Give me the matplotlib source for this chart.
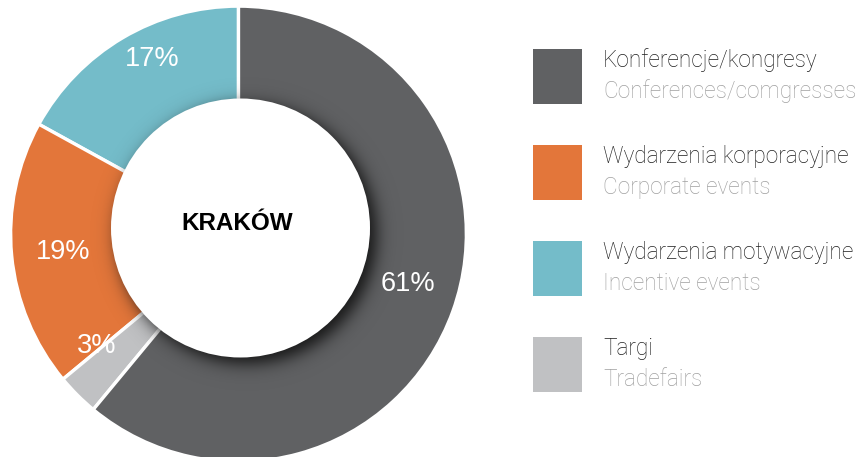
import numpy as np
import matplotlib.pyplot as plt
from matplotlib.patches import Circle, Rectangle

# ---- data (legend order) ----
labels_pl = ['Konferencje/kongresy', 'Wydarzenia korporacyjne', 'Wydarzenia motywacyjne', 'Targi']
labels_en = ['Conferences/comgresses', 'Corporate events', 'Incentive events', 'Tradefairs']
shares = [61, 19, 17, 3]
colors = ['#606163', '#E3763A', '#74BCC9', '#C0C1C3']
city = 'KRAKÓW'

# order of wedges, counter-clockwise from 12 o'clock
pie_order = [2, 1, 3, 0]
# label fine tuning (radius, angle shift in degrees) per wedge in pie_order
lab_r = [0.86, 0.78, 0.80, 0.78]
lab_shift = [-4.3, 0.4, -6.7, 3.3]

plt.rcParams['font.family'] = ['Liberation Sans', 'DejaVu Sans']

W, H = 866, 457
fig = plt.figure(figsize=(W / 100, H / 100), dpi=100)

# donut axes: centre at (238.5, 234) px, outer radius 226.5 px
S = 226.5
cx, cy = 238.5, 234
half = 233
ax = fig.add_axes([(cx - half) / W, (H - cy - half) / H, 2 * half / W, 2 * half / H])

vals = [shares[i] for i in pie_order]
cols = [colors[i] for i in pie_order]
wedges, _ = ax.pie(vals, colors=cols, startangle=90, counterclock=True, radius=1.006,
                   wedgeprops=dict(edgecolor='white', linewidth=2.4))

# inner white disc with soft shadow
in_c = (2 / S, 6 / S)
in_r = 129.5 / S
sh_c = (in_c[0] + 6 / S, in_c[1] - 6 / S)
xs = np.linspace(-0.85, 0.85, 500)
X, Y = np.meshgrid(xs, xs)
d = np.hypot(X - sh_c[0], Y - sh_c[1])
alpha = 0.95 / (1 + np.exp((d - in_r) / (5 / S)))
img = np.zeros(X.shape + (4,))
img[..., :3] = 0.07
img[..., 3] = alpha
ax.imshow(img, extent=[-0.85, 0.85, -0.85, 0.85], origin='lower', zorder=3, interpolation='bilinear')
ax.add_patch(Circle(in_c, in_r, facecolor='white', edgecolor='none', zorder=4))
ax.set_xlim(-half / S, half / S)
ax.set_ylim(-half / S, half / S)
ax.set_aspect('equal')
ax.axis('off')

# percentage labels
total = sum(vals)
start = 90.0
for k, v in enumerate(vals):
    mid = start + 360 * v / total / 2 + lab_shift[k]
    start += 360 * v / total
    a = np.deg2rad(mid)
    ax.text(lab_r[k] * np.cos(a), lab_r[k] * np.sin(a), f'{v}%', color='white',
            fontsize=19.5, ha='center', va='center', zorder=5)

ax.text(in_c[0] - 3.5 / S, in_c[1] + 4.5 / S, city, fontsize=17.5, fontweight='bold',
        ha='center', va='center', color='black', zorder=6)

# legend drawn in pixel coordinates
lg = fig.add_axes([0, 0, 1, 1])
lg.set_xlim(0, W)
lg.set_ylim(H, 0)
lg.axis('off')
lfam = ['Roboto', 'DejaVu Sans']
for i in range(len(labels_pl)):
    y0 = 49 + i * 96
    lg.add_patch(Rectangle((533, y0), 49, 55, facecolor=colors[i], edgecolor='none'))
    lg.text(603, y0 + 18, labels_pl[i], fontsize=16.3, color='#1e1e1e',
            family=lfam, fontweight='light', va='baseline', ha='left')
    lg.text(603, y0 + 49, labels_en[i], fontsize=16.3, color='#a0a0a0',
            family=lfam, fontweight='light', va='baseline', ha='left')

fig.savefig('out.png', dpi=100)
